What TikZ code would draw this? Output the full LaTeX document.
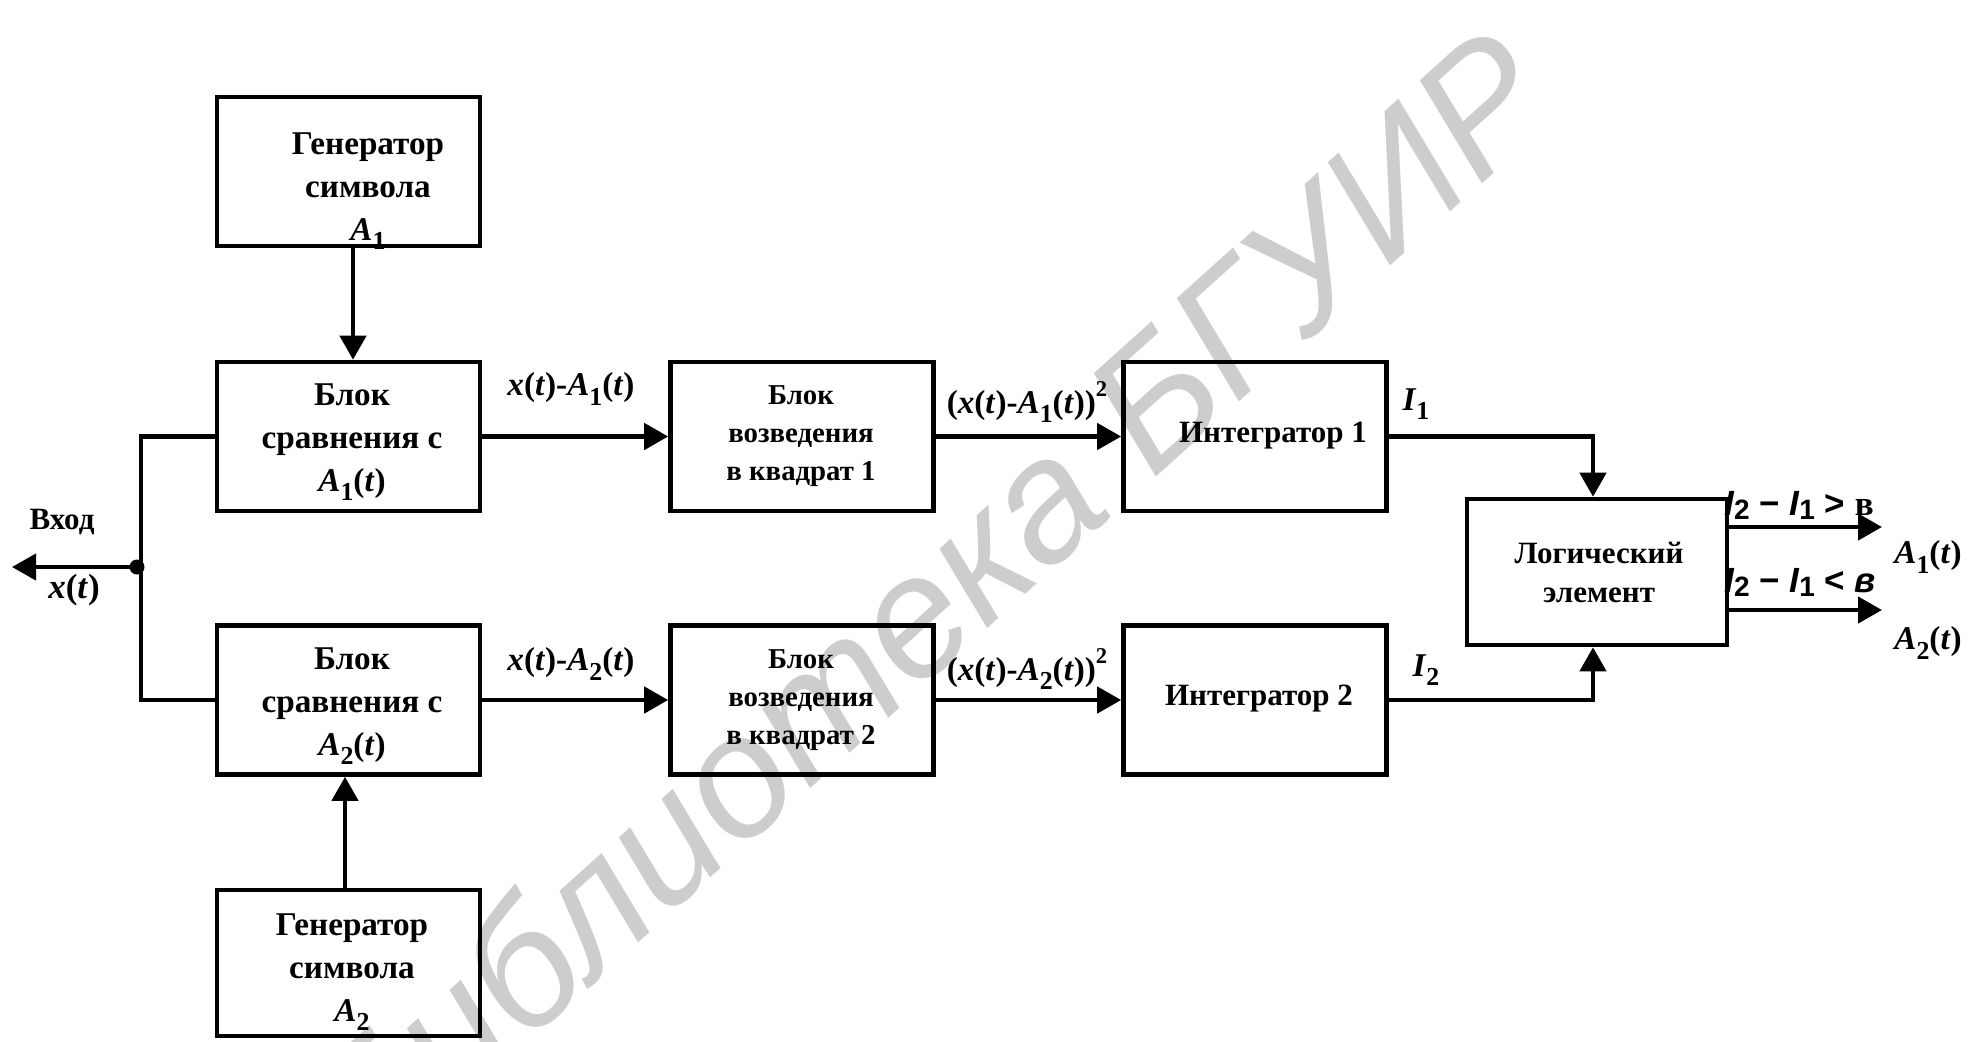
\documentclass[tikz,border=0pt]{standalone}
\usepackage{fontspec}
\setmainfont{Liberation Serif}
\newfontfamily\arialf{Liberation Sans}
\usepackage{graphicx}
\usetikzlibrary{arrows.meta}
\definecolor{wmgray}{RGB}{205,205,205}
\newcommand{\dn}[1]{\raisebox{-0.28em}{\scalebox{0.78}{#1}}}
\newcommand{\dnn}[1]{\raisebox{-0.12em}{\scalebox{0.8}{#1}}}
\newcommand{\upx}[1]{\raisebox{0.5em}{\scalebox{0.68}{#1}}}
\begin{document}
\begin{tikzpicture}[x=0.5pt,y=-0.5pt,
  box/.style={draw, line width=2.3pt, inner sep=0pt, minimum width=131.5pt, minimum height=74.5pt},
  conn/.style={line width=2.2pt},
  arr/.style={conn, -{Triangle[length=12pt,width=13pt]}},
  lbl/.style={inner sep=0pt, align=center},
  big/.style={font=\bfseries\fontsize{16.6}{21.4}\selectfont},
  mid/.style={font=\bfseries\fontsize{14.4}{19}\selectfont},
  dot/.style={circle, fill, inner sep=0pt, minimum size=7.5pt},
  outl/.style={anchor=base west, inner sep=0pt, font=\arialf\bfseries\fontsize{17.5}{20}\selectfont}
]
\path[use as bounding box] (0,0) rectangle (1970,1041);
% watermark
\begin{scope}
\clip (0,0) rectangle (1970,1041);
\node[rotate=42, anchor=base west, inner sep=0pt, text=wmgray, font=\arialf\itshape\fontsize{86}{86}\selectfont] (wm) at (370,1185) {Библиотека БГУИР};
\end{scope}

% boxes
\node[box] (gen1) at (348.5,171.5) {};
\node[lbl,big] (gen1t) at (368,191) {Генератор\\символа\\\textit{A}\dn{1}};
\node[box] (cmp1) at (348.5,436.5) {};
\node[lbl,big] (cmp1t) at (352,442) {Блок\\сравнения с\\\textit{A}\dn{1}(\textit{t})};
\node[box] (cmp2) at (348.5,700) {};
\node[lbl,big] (cmp2t) at (352,706) {Блок\\сравнения с\\\textit{A}\dn{2}(\textit{t})};
\node[box,minimum height=73pt] (gen2) at (348.5,963) {};
\node[lbl,big] (gen2t) at (352,972) {Генератор\\символа\\\textit{A}\dn{2}};
\node[box] (sq1) at (802,436.5) {};
\node[lbl,mid] (sq1t) at (801,436.5) {Блок\\возведения\\в квадрат 1};
\node[box] (sq2) at (802,700) {};
\node[lbl,mid] (sq2t) at (801,700) {Блок\\возведения\\в квадрат 2};
\node[box] (int1) at (1255,436.5) {};
\node[lbl,font=\bfseries\fontsize{15.5}{19}\selectfont] (int1t) at (1273,436) {Интегратор 1};
\node[box] (int2) at (1255,700) {};
\node[lbl,font=\bfseries\fontsize{15.5}{19}\selectfont] (int2t) at (1259,699) {Интегратор 2};
\node[box,minimum width=130pt,minimum height=73pt] (logic) at (1597,572) {};
\node[lbl,font=\bfseries\fontsize{15.5}{19.5}\selectfont] (logict) at (1599,572) {Логический\\элемент};

% connectors
\draw[arr] ([xshift=2.25pt]gen1.south) -- ([xshift=2.25pt]cmp1.north);
\draw[arr] ([xshift=-1.75pt]gen2.north) -- ([xshift=-1.75pt]cmp2.south);
\draw[arr] (cmp1.east) -- (sq1.west);
\draw[arr] (cmp2.east) -- (sq2.west);
\draw[arr] (sq1.east) -- (int1.west);
\draw[arr] (sq2.east) -- (int2.west);
\draw[arr] (int1.east) -| ([xshift=-2pt]logic.north);
\draw[arr] (int2.east) -| ([xshift=-2pt]logic.south);
\coordinate (o1) at (1882,527);
\coordinate (o2) at (1882,610);
\draw[arr] (logic.east |- o1) -- (o1);
\draw[arr] (logic.east |- o2) -- (o2);
\coordinate (jn) at (141,567);
\draw[conn] (cmp1.west) -| (jn) |- (cmp2.west);
\node[dot] (jd) at (137,567) {};
\coordinate (inp) at (12,567);
\draw[arr] (jd.center) -- (inp);

% labels
\node[lbl,font=\bfseries\fontsize{15.5}{18}\selectfont] (vh) at (62,522) {Вход};
\node[lbl,font=\bfseries\fontsize{17.5}{20}\selectfont] (xt) at (74,590) {\textit{x}(\textit{t})};
\node[lbl,big] (l1) at (571,389) {\textit{x}(\textit{t})-\textit{A}\dn{1}(\textit{t})};
\node[lbl,big] (l2) at (571,664) {\textit{x}(\textit{t})-\textit{A}\dn{2}(\textit{t})};
\node[lbl,big] (s1) at (1027,402) {(\textit{x}(\textit{t})-\textit{A}\dn{1}(\textit{t}))\upx{2}};
\node[lbl,big] (s2) at (1027,669) {(\textit{x}(\textit{t})-\textit{A}\dn{2}(\textit{t}))\upx{2}};
\node[lbl,big] (i1) at (1416,404) {\textit{I}\dn{1}};
\node[lbl,big] (i2) at (1426,670) {\textit{I}\dn{2}};
\node[outl] (c1) at (1724,515) {\itshape I\upshape\dnn{2} − \itshape I\upshape\dnn{1} > {\rmfamily в}};
\node[outl] (c2) at (1724,592) {\itshape I\upshape\dnn{2} − \itshape I\upshape\dnn{1} < \itshape в};
\node[lbl,big] (a1) at (1928,557) {\textit{A}\dn{1}(\textit{t})};
\node[lbl,big] (a2) at (1928,643) {\textit{A}\dn{2}(\textit{t})};
\end{tikzpicture}
\end{document}
